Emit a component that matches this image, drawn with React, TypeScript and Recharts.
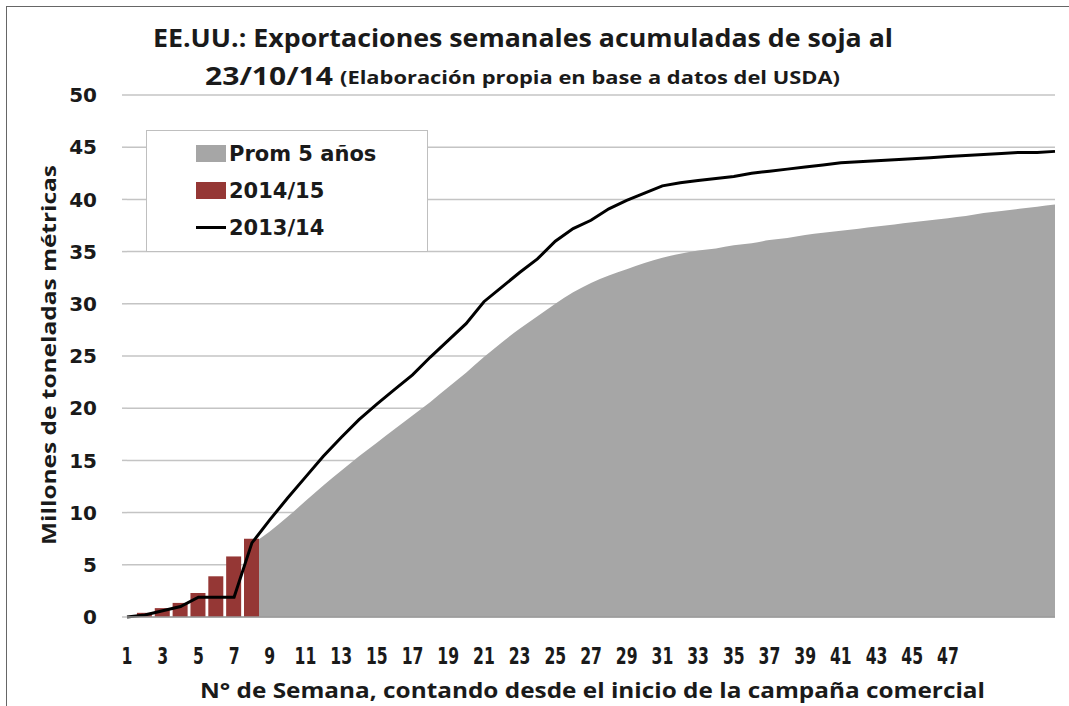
import {
  ComposedChart,
  Area,
  Bar,
  Line,
  XAxis,
  YAxis,
  CartesianGrid,
} from 'recharts';

const WEEKS = Array.from({ length: 53 }, (_, i) => i + 1);

// Prom 5 años (weeks 8..53; earlier weeks hidden)
const PROM_5 = [
  null, null, null, null, null, null, null,
  7.0, 8.2, 9.6, 11.1, 12.6, 14.0, 15.4, 16.7, 18.0, 19.3,
  20.6, 22.0, 23.4, 24.9, 26.3, 27.6, 28.8, 30.0, 31.1, 32.0,
  32.7, 33.3, 33.9, 34.4, 34.8, 35.1, 35.3, 35.6, 35.8, 36.1,
  36.3, 36.6, 36.8, 37.0, 37.2, 37.4, 37.6, 37.8, 38.0, 38.2,
  38.4, 38.7, 38.9, 39.1, 39.3, 39.5,
];

const CAMP_1415 = [null, 0.4, 0.85, 1.35, 2.3, 3.9, 5.8, 7.5];

const CAMP_1314 = [
  0, 0.2, 0.6, 1.0, 1.9, 1.9, 1.9, 7.1, 9.3, 11.4,
  13.4, 15.4, 17.2, 18.9, 20.4, 21.8, 23.2, 24.9, 26.5, 28.1,
  30.2, 31.6, 33.0, 34.3, 36.0, 37.2, 38.0, 39.1, 39.9, 40.6,
  41.3, 41.6, 41.8, 42.0, 42.2, 42.5, 42.7, 42.9, 43.1, 43.3,
  43.5, 43.6, 43.7, 43.8, 43.9, 44.0, 44.1, 44.2, 44.3, 44.4,
  44.5, 44.5, 44.6,
];

const X_TICKS = [1, 3, 5, 7, 9, 11, 13, 15, 17, 19, 21, 23, 25, 27, 29, 31, 33, 35, 37, 39, 41, 43, 45, 47];
const Y_TICKS = [0, 5, 10, 15, 20, 25, 30, 35, 40, 45, 50];

const data = WEEKS.map((w, i) => ({
  week: w,
  prom: PROM_5[i] ?? null,
  c1415: CAMP_1415[i] ?? null,
  c1314: CAMP_1314[i] ?? null,
}));

const GRAY = '#a6a6a6';
const RED = '#953735';
const INK = '#1a1a1a';

// narrow bold labels under the x axis
function WeekTick(props: any) {
  const { x, y, payload } = props;
  return (
    <g transform={`translate(${x},${y})`}>
      <text
        transform="scale(0.68,1)"
        textAnchor="middle"
        dy="0.71em"
        style={{ fontFamily: '"DejaVu Sans", sans-serif', fontWeight: 700, fontSize: 23, fill: INK }}
      >
        {payload.value}
      </text>
    </g>
  );
}

function LegendBox() {
  const row = { display: 'flex', alignItems: 'center', height: 37 } as const;
  const txt = {
    fontFamily: '"DejaVu Sans", sans-serif',
    fontWeight: 700,
    fontSize: 21,
    color: INK,
    marginLeft: 3,
  };
  return (
    <div
      style={{
        position: 'absolute',
        left: 146,
        top: 130,
        width: 282,
        height: 122,
        border: '1.5px solid #bfbfbf',
        background: '#fff',
        boxSizing: 'border-box',
        padding: '4px 0 0 49px',
      }}
    >
      <div style={row}>
        <span style={{ width: 30, height: 17, background: GRAY }} />
        <span style={txt}>Prom 5 años</span>
      </div>
      <div style={row}>
        <span style={{ width: 30, height: 17, background: RED }} />
        <span style={txt}>2014/15</span>
      </div>
      <div style={row}>
        <span style={{ width: 30, height: 3, background: '#000' }} />
        <span style={txt}>2013/14</span>
      </div>
    </div>
  );
}

export default function App() {
  return (
    <div style={{ position: 'absolute', left: 0, top: 0, width: 1069, height: 706, background: '#fff', overflow: 'hidden' }}>
      <div
        style={{
          position: 'absolute',
          left: 6,
          top: 6,
          width: 1080,
          height: 720,
          borderLeft: '1.5px solid #666',
          borderTop: '1.5px solid #666',
        }}
      />
      <ComposedChart
        width={1069}
        height={706}
        data={data}
        margin={{ top: 95, right: 14, bottom: 29, left: 27 }}
        style={{ position: 'absolute', left: 0, top: 0 }}
      >
        <CartesianGrid vertical={false} stroke="#c4c4c4" strokeWidth={1.5} />
        <XAxis
          dataKey="week"
          type="number"
          domain={[1, 53]}
          ticks={X_TICKS}
          interval={0}
          height={60}
          tickLine={false}
          tickSize={0}
          tickMargin={31}
          axisLine={{ stroke: '#9a9a9a', strokeWidth: 1.5 }}
          tick={<WeekTick />}
        />
        <YAxis
          domain={[0, 50]}
          ticks={Y_TICKS}
          width={100}
          axisLine={false}
          tickSize={5}
          tickMargin={25}
          tickLine={{ stroke: '#c4c4c4', strokeWidth: 1.5 }}
          tick={{ fontWeight: 700, fill: INK, fontSize: 20, fontFamily: '"DejaVu Sans", sans-serif' }}
        />
        <Area
          dataKey="prom"
          name="Prom 5 años"
          type="monotone"
          stroke="none"
          fill={GRAY}
          fillOpacity={1}
          isAnimationActive={false}
        />
        <Bar dataKey="c1415" name="2014/15" fill={RED} barSize={15} isAnimationActive={false} />
        <Line
          dataKey="c1314"
          name="2013/14"
          type="linear"
          stroke="#000"
          strokeWidth={3}
          dot={false}
          isAnimationActive={false}
        />
      </ComposedChart>
      <LegendBox />
      <svg width={1069} height={706} style={{ position: 'absolute', left: 0, top: 0, pointerEvents: 'none' }}>
        <text
          x={153}
          y={47}
          textLength={740}
          lengthAdjust="spacingAndGlyphs"
          style={{ fontFamily: '"Open Sans", sans-serif', fontWeight: 700, fontSize: 25, fill: INK }}
        >
          EE.UU.: Exportaciones semanales acumuladas de soja al
        </text>
        <text
          x={205}
          y={85}
          textLength={128}
          lengthAdjust="spacingAndGlyphs"
          style={{ fontFamily: '"Open Sans", sans-serif', fontWeight: 700, fontSize: 25, fill: INK }}
        >
          23/10/14
        </text>
        <text
          x={340}
          y={84}
          textLength={500}
          lengthAdjust="spacingAndGlyphs"
          style={{ fontFamily: '"Open Sans", sans-serif', fontWeight: 700, fontSize: 17, fill: INK }}
        >
          (Elaboración propia en base a datos del USDA)
        </text>
        <text
          transform="translate(56,355) rotate(-90)"
          textAnchor="middle"
          textLength={380}
          lengthAdjust="spacingAndGlyphs"
          style={{ fontFamily: '"Open Sans", sans-serif', fontWeight: 700, fontSize: 20, fill: INK }}
        >
          Millones de toneladas métricas
        </text>
        <text
          x={200}
          y={698}
          textLength={785}
          lengthAdjust="spacingAndGlyphs"
          style={{ fontFamily: '"Open Sans", sans-serif', fontWeight: 700, fontSize: 21, fill: INK }}
        >
          N° de Semana, contando desde el inicio de la campaña comercial
        </text>
      </svg>
    </div>
  );
}
